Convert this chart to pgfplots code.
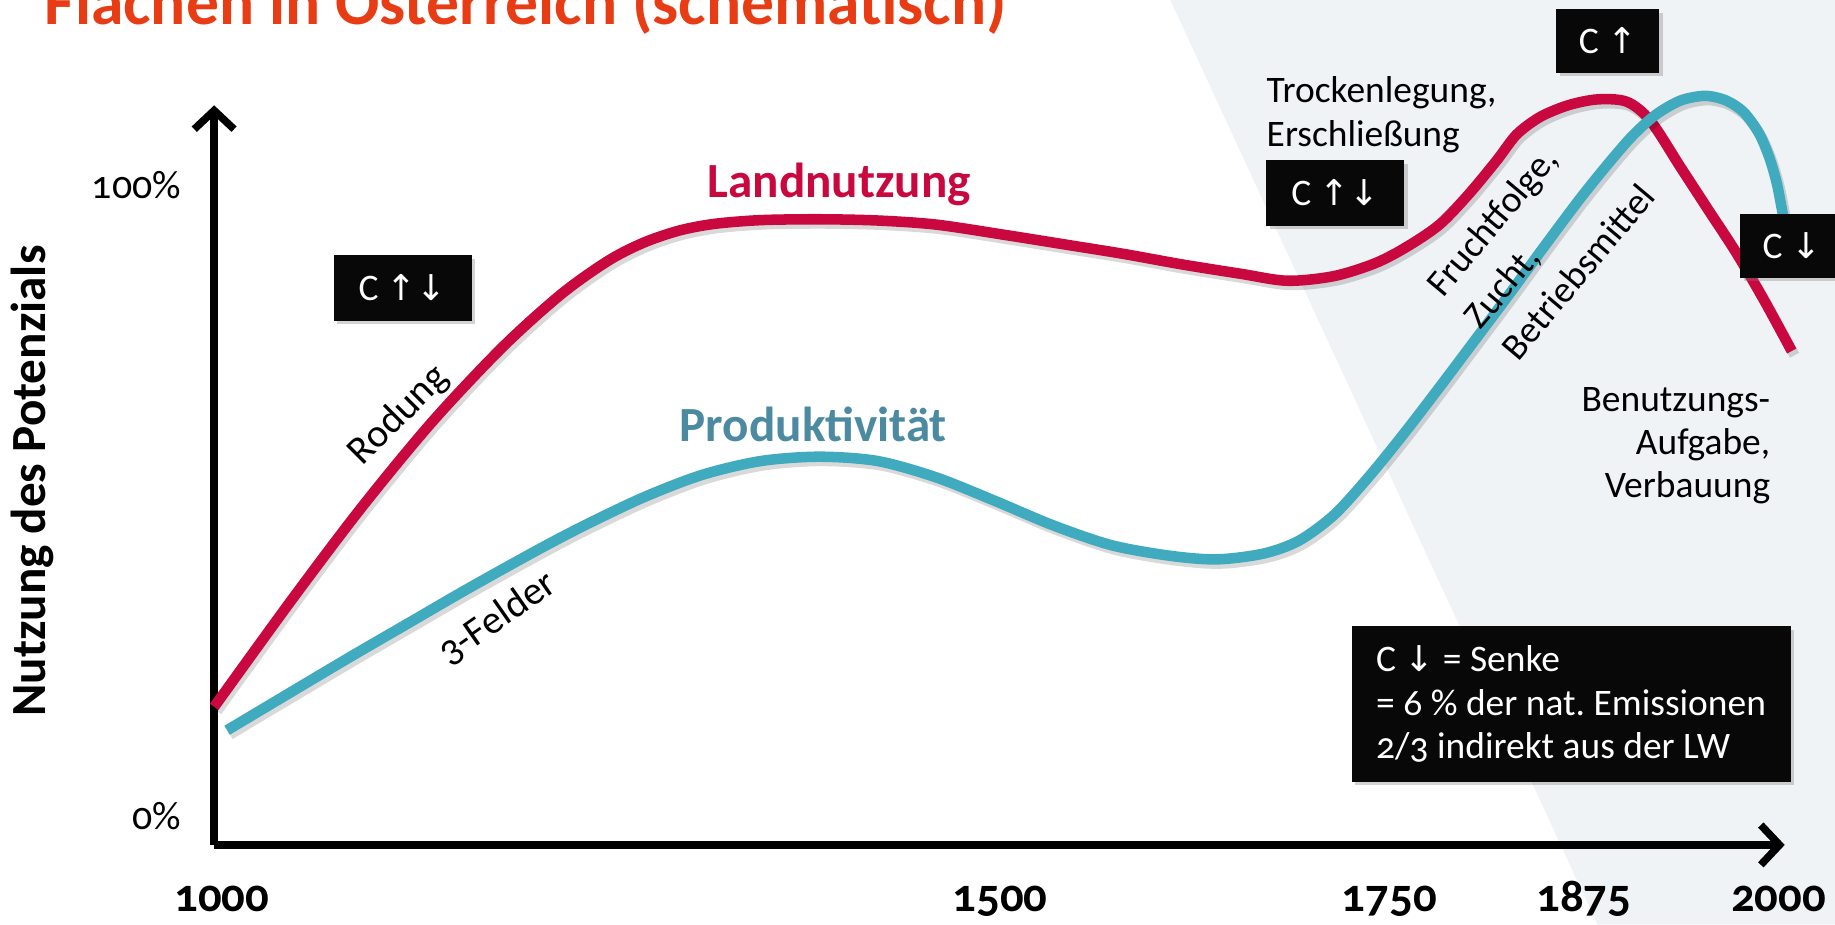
\documentclass[border=0pt]{standalone}
\usepackage{pgfplots}
\usepackage{pgfplotstable}
\pgfplotsset{compat=1.18}
\usepackage{fontspec}
\setmainfont{Carlito}[Numbers=OldStyle]
\newfontfamily\arr{DejaVu Sans}[Scale=0.95]
\usetikzlibrary{arrows.meta,shadows}
\definecolor{redc}{RGB}{200,8,62}
\definecolor{tealc}{RGB}{64,170,190}
\definecolor{prodc}{RGB}{76,138,162}
\definecolor{titlec}{RGB}{232,60,20}
\definecolor{bgc}{RGB}{239,243,246}
\newcommand{\up}{{\arr ↑}}
\newcommand{\dn}{{\arr ↓}}
\frenchspacing
\tikzset{cbox/.style={fill=black!97, text=white, font=\fontsize{16}{19}\selectfont, minimum height=28pt, inner sep=0pt,
  drop shadow={shadow xshift=1.5pt, shadow yshift=-1.5pt, opacity=0.35}}}
% Landnutzung (year, % of potential)
\pgfplotstableread{
x y
995.0 17.25
1045.4 34.41
1090.5 49.11
1135.6 62.58
1180.7 74.38
1218.3 82.73
1248.4 88.00
1270.9 90.83
1293.5 92.73
1316.1 93.80
1346.1 94.40
1383.7 94.54
1421.3 94.34
1458.9 93.69
1504.0 92.02
1541.6 90.54
1579.2 89.05
1616.8 87.38
1654.4 85.90
1684.5 84.79
1714.5 85.53
1740.9 87.57
1761.2 90.17
1782.2 93.69
1801.0 98.51
1819.1 103.90
1831.8 107.98
1846.9 110.76
1864.9 112.61
1883.7 113.54
1902.5 113.17
1917.6 110.20
1937.1 102.78
1955.2 95.92
1972.4 89.42
1990.5 81.82
2008.5 73.65
}\landdata
% Produktivitaet
\pgfplotstableread{
x y
1003.3 13.54
1043.1 19.40
1083.0 25.25
1120.6 30.63
1158.2 36.01
1203.3 42.19
1233.3 46.05
1270.9 50.46
1308.5 54.02
1346.1 56.21
1383.7 56.90
1421.3 56.21
1458.9 53.62
1496.5 49.91
1534.1 46.01
1571.7 42.86
1609.3 41.19
1639.4 40.63
1669.4 41.56
1692.0 43.60
1714.5 47.68
1737.1 53.80
1759.7 60.67
1782.2 67.90
1804.8 75.32
1827.3 82.74
1849.9 90.35
1872.4 97.77
1891.2 103.52
1906.3 107.79
1921.3 111.13
1937.1 113.36
1952.9 114.10
1966.4 113.36
1977.7 111.50
1987.5 108.16
1994.2 104.27
1998.8 100.37
2001.8 96.66
2004.0 93.69
}\proddata
\begin{document}
\begin{tikzpicture}
\begin{scope}[x=0.5pt,y=-0.5pt]
\clip (0,0) rectangle (1568,790);
\fill[bgc] (1000,0) -- (1568,0) -- (1568,790) -- (1365,790) -- cycle;
\end{scope}
\begin{axis}[
  at={(91.5pt,-361pt)}, anchor=south west,
  scale only axis, width=671pt, height=316pt,
  xmin=995, xmax=2004, ymin=-4.64, ymax=112.6,
  axis lines=left,
  axis line style={line width=3.2pt, -{Straight Barb[length=8pt,width=17pt]}},
  xtick={1000,1500,1750,1875,2000}, xticklabels={1000,1500,1750,1875,2000},
  ytick={0,100}, yticklabels={0\%,100\%},
  major tick length=0pt,
  xticklabel style={font=\bfseries\fontsize{20}{24}\selectfont, inner sep=0pt, anchor=base, yshift=-28.5pt},
  yticklabel style={font=\fontsize{17}{20}\selectfont, inner sep=0pt, anchor=east, xshift=-14pt},
  clip=false,
]
\addplot[smooth, tension=0.5, black, opacity=0.15, line width=4.5pt, xshift=1.2pt, yshift=-1.8pt] table {\landdata};
\addplot[smooth, tension=0.5, color=redc, line width=4.5pt, line join=round] table {\landdata};
\addplot[smooth, tension=0.5, black, opacity=0.15, line width=4.5pt, xshift=1.2pt, yshift=-1.8pt] table {\proddata};
\addplot[smooth, tension=0.5, color=tealc, line width=4.5pt, line join=round] table {\proddata};
\end{axis}
\begin{scope}[x=0.5pt,y=-0.5pt]
\clip (0,0) rectangle (1568,790);
\node[anchor=base west, text=titlec, font=\bfseries\fontsize{28}{32}\selectfont, inner sep=0pt] at (38,21) {Flächen in Österreich (schematisch)};
\node[rotate=90, font=\bfseries\fontsize{21}{25}\selectfont] at (28,411) {Nutzung des Potenzials};
\node[text=redc, font=\bfseries\fontsize{21}{25}\selectfont] at (717,158) {Landnutzung};
\node[text=prodc, font=\bfseries\fontsize{21}{25}\selectfont] at (695,363) {Produktivität};
\node[rotate=45, font=\fontsize{17}{19}\selectfont] at (341,355) {Rodung};
\node[rotate=35, font=\fontsize{17}{19}\selectfont] at (425,528) {3-Felder};
\node[rotate=50, align=left, font=\fontsize{16}{21}\selectfont, inner sep=0pt] at (1316,205) {Fruchtfolge,\\Zucht,\\Betriebsmittel};
\node[anchor=west, align=left, font=\fontsize{16}{18.5}\selectfont, inner sep=0pt] at (1082,98) {Trockenlegung,\\Erschließung};
\node[anchor=east, align=right, font=\fontsize{16}{18.5}\selectfont, inner sep=0pt] at (1513,381) {Benutzungs-\\Aufgabe,\\Verbauung};
\node[cbox, minimum width=59pt] at (344,246) {C \up\dn};
\node[cbox, minimum width=59pt] at (1141,165) {C \up\dn};
\node[cbox, minimum width=44pt, minimum height=27pt] at (1374,35) {C \up};
\node[cbox, minimum width=44pt, minimum height=27.5pt] at (1531,210) {C \dn};
\node[fill=black!97, text=white, font=\fontsize{16}{18.5}\selectfont, align=left, inner xsep=8.5pt, inner ysep=7pt,
  minimum width=187.5pt, minimum height=66.5pt,
  drop shadow={shadow xshift=1.5pt, shadow yshift=-1.5pt, opacity=0.35}] at (1342.5,601.5)
  {C \dn{} = Senke\\= 6 \% der nat. Emissionen\\2/3 indirekt aus der LW};
\end{scope}
\pgfresetboundingbox
\useasboundingbox (0pt,0pt) rectangle (784pt,-395pt);
\end{tikzpicture}
\end{document}
